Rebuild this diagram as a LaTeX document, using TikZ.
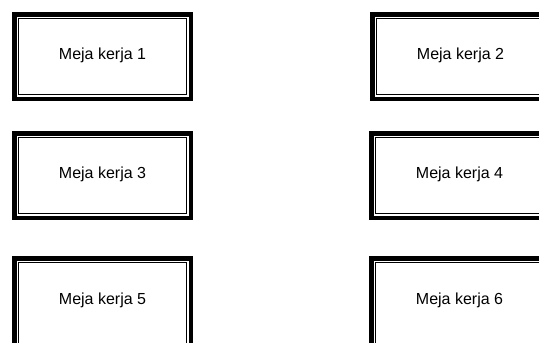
\documentclass[tikz,border=0pt]{standalone}
\usepackage{fontspec}
\setmainfont{Liberation Sans}
\usetikzlibrary{positioning}

\tikzset{
  meja/.style={draw=black, line width=4.5pt, minimum width=176.5pt,
    inner sep=0pt, text height=11.5pt, font=\fontsize{16}{19}\selectfont},
  garis/.style={draw=black, line width=1.1pt, minimum width=168.1pt, inner sep=0pt}
}

\begin{document}
\begin{tikzpicture}[x=1pt, y=-1pt]
\useasboundingbox (0,0) rectangle (539,343);

% Work desks, thick frame with a thin line inside
% name / x / y / height / text depth
\foreach \n/\x/\y/\h/\td in {1/102.5/56.5/84.5/6, 2/460.5/56.5/84.5/6,
    3/102.5/175.5/84.5/6, 4/459.5/175.5/84.5/6,
    5/102.5/304/91.5/10, 6/459.5/304/91.5/10} {
  \node[meja, minimum height=\h pt, text depth=\td pt] (meja\n) at (\x,\y) {Meja kerja \n};
  \node[garis, minimum height={\h pt-8.4pt}] (garis\n) at (meja\n.center) {};
}

\end{tikzpicture}
\end{document}
